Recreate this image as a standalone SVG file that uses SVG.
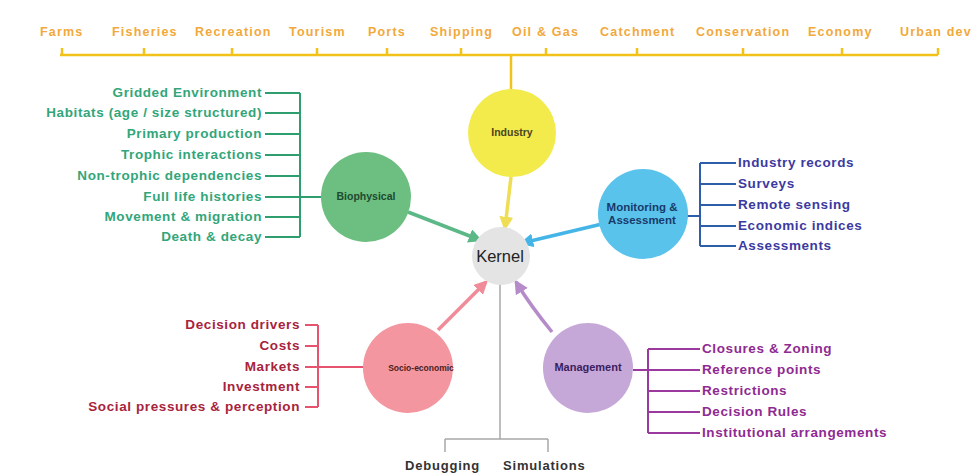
<svg xmlns="http://www.w3.org/2000/svg" width="976" height="475" viewBox="0 0 976 475">
<defs>
<style>
.top{font-family:"Liberation Sans",Arial,sans-serif;font-size:12.5px;font-weight:bold;fill:#F2A93B;letter-spacing:1.2px}
.lst{font-family:"Liberation Sans",Arial,sans-serif;font-size:13.5px;font-weight:bold;letter-spacing:0.6px}
.nl{font-family:"Liberation Sans",Arial,sans-serif;font-size:10.5px;font-weight:bold;text-anchor:middle}
.g{fill:#32A67A}.gs{stroke:#2E9E6E;stroke-width:2;fill:none}
.b{fill:#3C3AA0}.bs{stroke:#2E5EA8;stroke-width:2;fill:none}
.r{fill:#A8233C}.rs{stroke:#E5536E;stroke-width:2;fill:none}
.p{fill:#8E2A92}.ps{stroke:#9B3A9E;stroke-width:2;fill:none}
.ys{stroke:#F2C21B;stroke-width:2.5;fill:none}
.gr{stroke:#A8A8A8;stroke-width:1.5;fill:none}
.bot{font-family:"Liberation Sans",Arial,sans-serif;font-size:13px;font-weight:bold;fill:#333;letter-spacing:0.8px}
</style>
<marker id="ag" viewBox="0 0 10 10" refX="8" refY="5" markerWidth="4" markerHeight="4" orient="auto"><path d="M0,0L10,5L0,10z" fill="#5DB887"/></marker>
<marker id="ab" viewBox="0 0 10 10" refX="8" refY="5" markerWidth="4" markerHeight="4" orient="auto"><path d="M0,0L10,5L0,10z" fill="#45B5E8"/></marker>
<marker id="ay" viewBox="0 0 10 10" refX="8" refY="5" markerWidth="4" markerHeight="4" orient="auto"><path d="M0,0L10,5L0,10z" fill="#EEDD55"/></marker>
<marker id="ar" viewBox="0 0 10 10" refX="8" refY="5" markerWidth="4" markerHeight="4" orient="auto"><path d="M0,0L10,5L0,10z" fill="#F08C9A"/></marker>
<marker id="ap" viewBox="0 0 10 10" refX="8" refY="5" markerWidth="4" markerHeight="4" orient="auto"><path d="M0,0L10,5L0,10z" fill="#B58BC9"/></marker>
</defs>
<rect width="976" height="475" fill="#FFFFFF"/>

<g id="connectors">
  <path class="ys" d="M60,55H938 M62,48V55 M144,48V55 M232,48V55 M317,48V55 M387,48V55 M461,48V55 M546,48V55 M637,48V55 M743,48V55 M842,48V55 M938,48V55 M511,55V89"/>
  <path d="M511,177L505,228" stroke="#EEDD55" stroke-width="3.5" fill="none" marker-end="url(#ay)"/>
  <path d="M408,212L480,240" stroke="#5DB887" stroke-width="3.5" fill="none" marker-end="url(#ag)"/>
  <path d="M602,224L522,243" stroke="#45B5E8" stroke-width="3.5" fill="none" marker-end="url(#ab)"/>
  <path d="M438,330L486,282" stroke="#F08C9A" stroke-width="3.5" fill="none" marker-end="url(#ar)"/>
  <path d="M552,332Q530,305 516,282" stroke="#B58BC9" stroke-width="3.5" fill="none" marker-end="url(#ap)"/>
  <path class="gs" d="M300,93V237 M265,93H300 M265,113H300 M265,134H300 M265,155H300 M265,176H300 M265,197H323 M265,217H300 M265,237H300"/>
  <path class="bs" d="M700,163V246 M700,163H736 M700,184H736 M700,205H736 M700,226H736 M700,246H736 M687,216H700"/>
  <path class="rs" d="M318,325V407 M305,325H318 M305,346H318 M305,367H318 M305,387H318 M305,407H318 M318,367H392"/>
  <path class="ps" d="M648,349V433 M648,349H700 M648,370H700 M648,391H700 M648,412H700 M648,433H700 M633,370H648"/>
  <path class="gr" d="M500,284V439 M445,439H548 M445,439V452 M548,439V452"/>
</g>

<g id="top-labels">
  <text class="top" x="40" y="36">Farms</text>
  <text class="top" x="112" y="36">Fisheries</text>
  <text class="top" x="195" y="36">Recreation</text>
  <text class="top" x="289" y="36">Tourism</text>
  <text class="top" x="368" y="36">Ports</text>
  <text class="top" x="430" y="36">Shipping</text>
  <text class="top" x="512" y="36">Oil &amp; Gas</text>
  <text class="top" x="600" y="36">Catchment</text>
  <text class="top" x="696" y="36">Conservation</text>
  <text class="top" x="808" y="36">Economy</text>
  <text class="top" x="900" y="36">Urban dev</text>
</g>

<g id="industry">
  <circle cx="512" cy="133" r="44" fill="#F3EA4C"/>
  <text class="nl" x="512" y="136" fill="#4A4520">Industry</text>
</g>
<g id="biophysical">
  <circle cx="366" cy="197" r="45" fill="#6CBF80"/>
  <text class="nl" x="366" y="200" fill="#1E4A30">Biophysical</text>
</g>
<g id="monitoring">
  <circle cx="643" cy="214" r="45" fill="#59C3EC"/>
  <text class="nl" x="642" y="211" fill="#1A3A6A" style="font-size:11.5px">Monitoring &amp;</text>
  <text class="nl" x="642" y="224" fill="#1A3A6A" style="font-size:11.5px">Assessment</text>
</g>
<g id="kernel">
  <circle cx="501" cy="256" r="29" fill="#E4E4E4"/>
  <text x="500" y="262" font-family="'Liberation Sans',Arial,sans-serif" font-size="16.5" text-anchor="middle" fill="#222">Kernel</text>
</g>
<g id="socio-economic">
  <circle cx="408" cy="368" r="45" fill="#F4969F"/>
  <text class="nl" x="421" y="371" fill="#4A1E22" style="font-size:8.5px">Socio-economic</text>
</g>
<g id="management">
  <circle cx="588" cy="368" r="45" fill="#C6A8D8"/>
  <text class="nl" x="588" y="371" fill="#3A2060" style="font-size:11px">Management</text>
</g>

<g id="biophysical-list" class="lst g" text-anchor="end">
  <text x="262" y="97">Gridded Environment</text>
  <text x="262" y="117">Habitats (age / size structured)</text>
  <text x="262" y="138">Primary production</text>
  <text x="262" y="159">Trophic interactions</text>
  <text x="262" y="180">Non-trophic dependencies</text>
  <text x="262" y="201">Full life histories</text>
  <text x="262" y="221">Movement &amp; migration</text>
  <text x="262" y="241">Death &amp; decay</text>
</g>
<g id="monitoring-list" class="lst b">
  <text x="738" y="167">Industry records</text>
  <text x="738" y="188">Surveys</text>
  <text x="738" y="209">Remote sensing</text>
  <text x="738" y="230">Economic indices</text>
  <text x="738" y="250">Assessments</text>
</g>
<g id="socio-list" class="lst r" text-anchor="end">
  <text x="300" y="329">Decision drivers</text>
  <text x="300" y="350">Costs</text>
  <text x="300" y="371">Markets</text>
  <text x="300" y="391">Investment</text>
  <text x="300" y="411">Social pressures &amp; perception</text>
</g>
<g id="management-list" class="lst p">
  <text x="702" y="353">Closures &amp; Zoning</text>
  <text x="702" y="374">Reference points</text>
  <text x="702" y="395">Restrictions</text>
  <text x="702" y="416">Decision Rules</text>
  <text x="702" y="437">Institutional arrangements</text>
</g>
<g id="outputs">
  <text class="bot" x="405" y="470">Debugging</text>
  <text class="bot" x="503" y="470">Simulations</text>
</g>
</svg>
